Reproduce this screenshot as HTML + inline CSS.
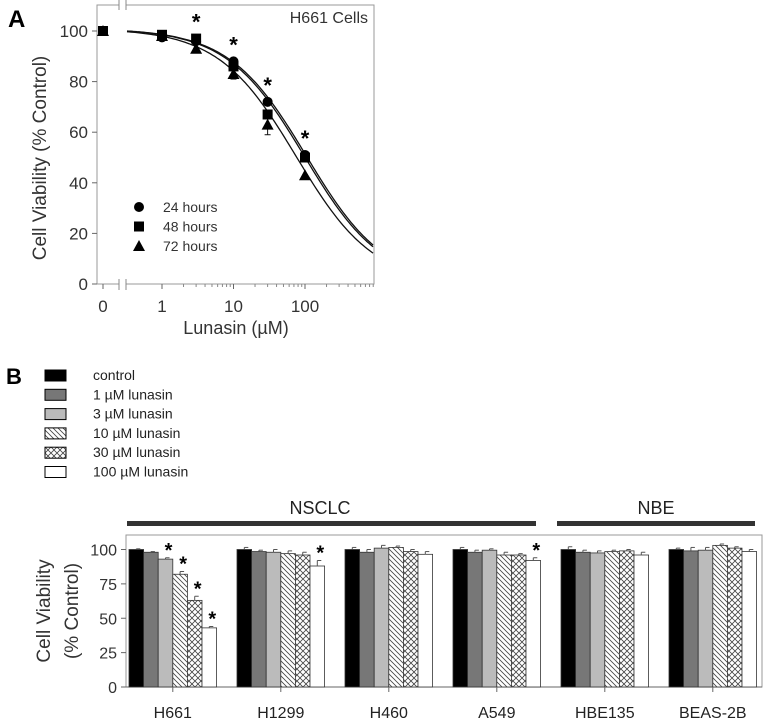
<!DOCTYPE html>
<html><head><meta charset="utf-8"><style>
body{margin:0;background:#fff}
svg{display:block;font-family:"Liberation Sans",sans-serif}
</style></head><body>
<svg id="s" width="769" height="725" viewBox="0 0 769 725">
<defs>
<pattern id="diag" patternUnits="userSpaceOnUse" width="5" height="5"><rect width="5" height="5" fill="#fff"/><path d="M-1,-1L6,6M-1,4L1,6M4,-1L6,1" stroke="#444" stroke-width="0.8"/></pattern>
<pattern id="cross" patternUnits="userSpaceOnUse" width="6" height="6"><rect width="6" height="6" fill="#fff"/><path d="M0,0L6,6M6,0L0,6" stroke="#444" stroke-width="0.8"/></pattern>
</defs>
<g id="A"></g>
<g id="B"></g>
</svg>
<script>
// ---------- Panel A data ----------
const doses = [0, 1, 3, 10, 30, 100];
const v24 = [100, 97.5, 96, 88, 72, 51];
const v48 = [100, 98.5, 97, 86, 67, 50];
const v72 = [100, 98, 93, 83, 63, 43];
const e72 = [0.5, 0.5, 1, 2, 4, 1];
const ic50s = [105, 98, 75];
const hills = [0.8, 0.8, 0.8];
const yTicksA = [0, 20, 40, 60, 80, 100];
const starDosesA = [3, 10, 30, 100];
// ---------- Panel B data ----------
const cells = ["H661", "H1299", "H460", "A549", "HBE135", "BEAS-2B"];
const treatments = ["control", "1 µM lunasin", "3 µM lunasin", "10 µM lunasin", "30 µM lunasin", "100 µM lunasin"];
const valsB = [
 [100, 98, 93, 82, 63, 43],
 [100, 98.5, 98, 97, 96, 88],
 [100, 98, 101, 101.5, 98.5, 96.5],
 [100, 98, 99.5, 96, 96, 92],
 [100, 98, 97.5, 98.5, 99, 96],
 [100, 99, 99.5, 103, 101, 98.5]
];
const errB = [
 [0.5, 0.5, 1, 2, 3, 1],
 [1.5, 1, 2, 2, 2, 4],
 [1.5, 2, 2, 1, 1.5, 2],
 [1.5, 1.5, 1, 2, 1, 2],
 [2, 1.5, 1.5, 1, 1, 2],
 [1, 2.5, 2, 1, 1, 1.5]
];
const starsB = [[0,2],[0,3],[0,4],[0,5],[1,5],[3,5]];
const yTicksB = [0, 25, 50, 75, 100];

const NS = "http://www.w3.org/2000/svg";
function mk(p, tag, at, txt){const e=document.createElementNS(NS,tag);for(const k in at)e.setAttribute(k,at[k]);if(txt!==undefined)e.textContent=txt;p.appendChild(e);return e;}
const A = document.getElementById('A'), B = document.getElementById('B');

// Panel A scales
const yA = v => 284 - v*2.53;
const xA = d => d===0 ? 103 : 162 + Math.log10(d)*71.5;
const fr = mk(A,'rect',{x:97,y:5,width:277,height:279,fill:'none',stroke:'#999','stroke-width':1});

// axis break
mk(A,'rect',{x:119,y:0,width:7,height:290,fill:'#fff'});
[[119],[126]].forEach(([x])=>{mk(A,'line',{x1:x,y1:0,x2:x,y2:10,stroke:'#888'});mk(A,'line',{x1:x,y1:279,x2:x,y2:290,stroke:'#888'});});
mk(A,'text',{x:8,y:27,'font-size':24,'font-weight':'bold'},'A');
yTicksA.forEach(t=>{const y=yA(t);mk(A,'line',{x1:92,y1:y,x2:97,y2:y,stroke:'#666'});
 const l=mk(A,'text',{x:88,y:y+6,'font-size':17,'text-anchor':'end',fill:'#333'},t);});
[0,1,10,100].forEach(d=>{const x=xA(d);mk(A,'line',{x1:x,y1:284,x2:x,y2:289,stroke:'#666'});
 const l=mk(A,'text',{x:x,y:312,'font-size':17,'text-anchor':'middle',fill:'#333'},d);});
[2,3,4,5,6,7,8,9,20,30,40,50,60,70,80,90,200,300,400,500,600,700,800,900].forEach(d=>{const x=xA(d);if(x<374)mk(A,'line',{x1:x,y1:284,x2:x,y2:287,stroke:'#888'});});
let t=mk(A,'text',{x:236,y:334,'font-size':18,'text-anchor':'middle',fill:'#333'},'Lunasin (µM)');
t=mk(A,'text',{x:0,y:0,'font-size':19,'text-anchor':'middle',fill:'#333',transform:'translate(46,158) rotate(-90)'},'Cell Viability (% Control)');
t=mk(A,'text',{x:368,y:23,'font-size':16,'text-anchor':'end',fill:'#333'},'H661 Cells');
// curves
ic50s.forEach((ic,i)=>{let d='';for(let x=127;x<=374;x+=2){const c=Math.pow(10,(x-162)/71.5);const v=101/(1+Math.pow(c/ic,hills[i]));d+=(d?'L':'M')+x+','+yA(v).toFixed(1);}
 const p=mk(A,'path',{d:d,fill:'none',stroke:'#111','stroke-width':1.3});});
// error bars 72
doses.forEach((d,i)=>{const x=xA(d);mk(A,'line',{x1:x,y1:yA(v72[i]-e72[i]),x2:x,y2:yA(v72[i]+e72[i]),stroke:'#111'});mk(A,'line',{x1:x-3,y1:yA(v72[i]-e72[i]),x2:x+3,y2:yA(v72[i]-e72[i]),stroke:'#111'});});
function marker(g,type,x,y){let m;
 if(type==0)m=mk(g,'circle',{cx:x,cy:y,r:5,fill:'#000'});
 else if(type==1)m=mk(g,'rect',{x:x-5,y:y-5,width:10,height:10,fill:'#000'});
 else m=mk(g,'polygon',{points:`${x},${y-6} ${x-6},${y+5} ${x+6},${y+5}`,fill:'#000'});return m;}
[v72,v48,v24].forEach((arr,k)=>{const type=2-k;doses.forEach((d,i)=>{const m=marker(A,type,xA(d),yA(arr[i]));});});
starDosesA.forEach(d=>{const i=doses.indexOf(d);const v=Math.max(v24[i],v48[i]);mk(A,'text',{x:xA(d),y:yA(v)-9,'font-size':22,'text-anchor':'middle','font-weight':'bold'},'*');});
['24 hours','48 hours','72 hours'].forEach((s,i)=>{const y=207+i*19.5;const m=marker(A,i,139,y);
 const l=mk(A,'text',{x:163,y:y+5,'font-size':14,fill:'#333'},s);});

// Panel B
const fills = ['#000','#777','#bbb','url(#diag)','url(#cross)','#fff'];
mk(B,'text',{x:6,y:384,'font-size':22,'font-weight':'bold'},'B');
treatments.forEach((s,i)=>{const y=375+i*19.3;const r=mk(B,'rect',{x:45,y:y-5,width:21,height:11,fill:fills[i],stroke:'#000','stroke-width':1});
 const l=mk(B,'text',{x:93,y:y+5,'font-size':14,fill:'#222'},s);});
const yB = v => 687 - v*1.375;
const f=mk(B,'rect',{x:126,y:535,width:636,height:152,fill:'none',stroke:'#999'});
mk(B,'line',{x1:126,y1:687,x2:762,y2:687,stroke:'#666'});
yTicksB.forEach(v=>{const y=yB(v);mk(B,'line',{x1:121,y1:y,x2:126,y2:y,stroke:'#666'});
 const l=mk(B,'text',{x:117,y:y+6,'font-size':16,'text-anchor':'end',fill:'#333'},v);});
t=mk(B,'text',{x:0,y:0,'font-size':19,'text-anchor':'middle',fill:'#333',transform:'translate(50,611) rotate(-90)'},'Cell Viability');
t=mk(B,'text',{x:0,y:0,'font-size':19,'text-anchor':'middle',fill:'#333',transform:'translate(78,611) rotate(-90)'},'(% Control)');
const bw=14.6, gx=i=>129+i*108;
cells.forEach((c,gi)=>{const x0=gx(gi);
 valsB[gi].forEach((v,j)=>{const x=x0+j*bw;const r=mk(B,'rect',{x:x,y:yB(v),width:bw,height:yB(0)-yB(v),fill:fills[j],stroke:'#333','stroke-width':0.8});
  
  const e=errB[gi][j],xc=x+bw/2;mk(B,'line',{x1:xc,y1:yB(v),x2:xc,y2:yB(v+e),stroke:'#555'});mk(B,'line',{x1:xc,y1:yB(v+e),x2:xc+4,y2:yB(v+e),stroke:'#555'});});
 mk(B,'line',{x1:x0+3*bw,y1:687,x2:x0+3*bw,y2:692,stroke:'#666'});
 const l=mk(B,'text',{x:x0+3*bw,y:718,'font-size':16,'text-anchor':'middle',fill:'#222'},c);});
starsB.forEach(([g,j])=>{const v=valsB[g][j]+errB[g][j];mk(B,'text',{x:gx(g)+j*bw+bw/2+3,y:yB(v)-1,'font-size':20,'text-anchor':'middle','font-weight':'bold'},'*');});
let gb=mk(B,'rect',{x:127,y:521,width:409,height:5,fill:'#333'});
gb=mk(B,'rect',{x:557,y:521,width:198,height:5,fill:'#333'});
t=mk(B,'text',{x:320,y:514,'font-size':18,'text-anchor':'middle',fill:'#222'},'NSCLC');
t=mk(B,'text',{x:656,y:514,'font-size':18,'text-anchor':'middle',fill:'#222'},'NBE');
</script>
</body></html>
